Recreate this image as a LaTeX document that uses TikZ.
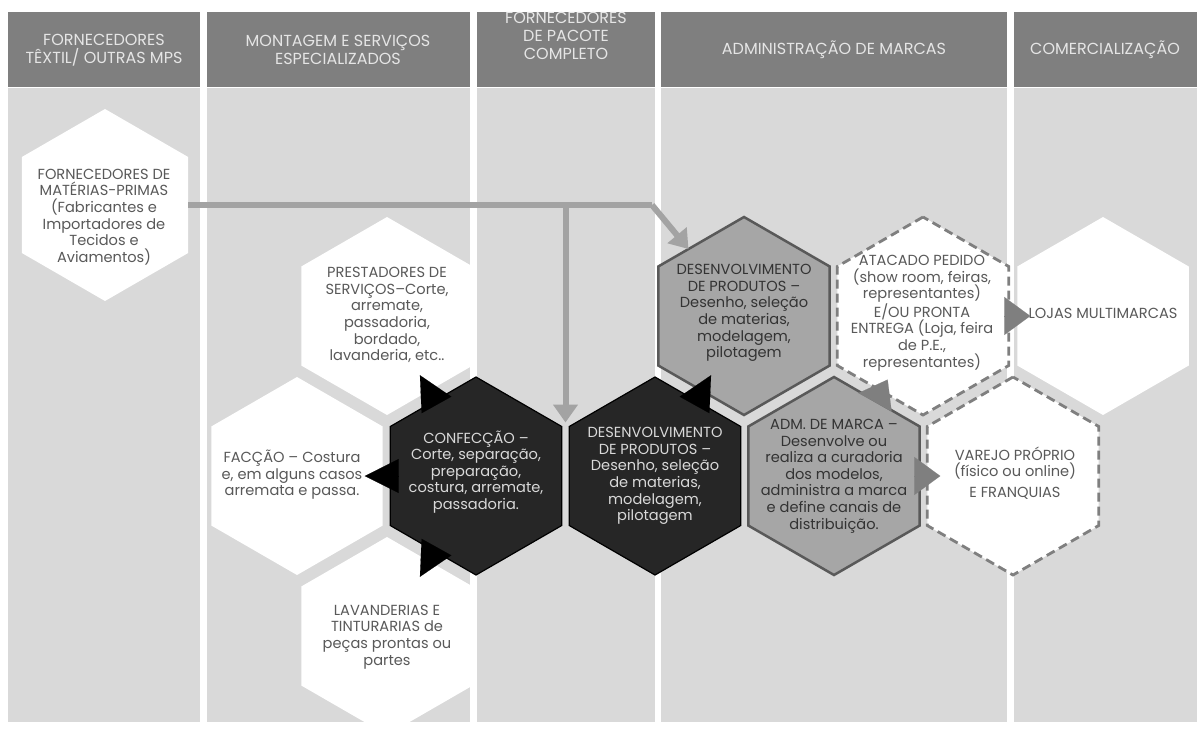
\documentclass[tikz,border=0pt]{standalone}
\usepackage{fontspec}
\setmainfont{Poppins}
\usetikzlibrary{shapes.geometric,arrows.meta,calc}
\definecolor{headgray}{HTML}{7F7F7F}
\definecolor{bodygray}{HTML}{D9D9D9}
\definecolor{inkgray}{HTML}{595959}
\definecolor{feedgray}{HTML}{A3A3A3}
\definecolor{midgray}{HTML}{A6A6A6}
\definecolor{darkhex}{HTML}{262626}
\definecolor{tipgray}{HTML}{7F7F7F}

\tikzset{
  hex/.style={regular polygon, regular polygon sides=6, shape border rotate=30,
    minimum size=198pt, inner sep=0pt, outer sep=0pt},
  hexwhite/.style={hex, fill=white},
  hexdark/.style={hex, fill=darkhex, draw=black, line width=1.2pt},
  hexgray/.style={hex, fill=midgray, draw=inkgray, line width=2.5pt},
  hexdash/.style={hex, fill=white, draw=tipgray, line width=2.8pt, dash pattern=on 9pt off 5pt},
  hextext/.style={align=center, text=inkgray, font=\fontsize{14.6}{16.6}\selectfont},
  headtext/.style={align=center, text=white!90!black, font=\fontsize{16}{18}\selectfont},
  feed/.style={feedgray, line width=6pt, -{Triangle[length=18pt,width=24pt]}},
  tipblack/.style={black, line width=.1pt, -{Triangle[length=34pt,width=34pt]}, shorten >=-18pt},
  tipgrey/.style={tipgray, line width=.1pt, -{Triangle[length=26pt,width=38pt]}, shorten >=-13pt},
}

\begin{document}
\begin{tikzpicture}[x=1pt, y=-1pt]
    \useasboundingbox (0,0) rectangle (1197,729);

    % Columns
    \foreach \xa/\xb in {8/200, 207/470, 477/655, 661/1007, 1014/1197} {
        \fill[headgray] (\xa,12) rectangle (\xb,87);
        \fill[bodygray] (\xa,88) rectangle (\xb,722);
    }
    \node[headtext] (h1) at (104,50) {FORNECEDORES\\TÊXTIL/ OUTRAS MPS};
    \node[headtext] (h2) at (338,50) {MONTAGEM E SERVIÇOS\\ESPECIALIZADOS};
    \node[headtext] (h3) at (566,36) {FORNECEDORES\\DE PACOTE\\COMPLETO};
    \node[headtext] (h4) at (834,50) {ADMINISTRAÇÃO DE MARCAS};
    \node[headtext] (h5) at (1105,50) {COMERCIALIZAÇÃO};

    % Hexagons
    \node[hexwhite, minimum size=192pt] (mp) at (105,205) {};
    \node[hexwhite] (pres) at (387,316) {};
    \node[hexwhite] (fac) at (297,476) {};
    \node[hexwhite] (lav) at (387,636) {};
    \node[hexdark] (conf) at (476,476) {};
    \node[hexdark] (devd) at (655,476) {};
    \node[hexgray] (devg) at (744,316) {};
    \node[hexgray] (adm) at (834,476) {};
    \node[hexdash] (atac) at (923,316) {};
    \node[hexdash] (varejo) at (1013,476) {};
    \node[hexwhite] (lojas) at (1103,316) {};

    % Texts
    \node[hextext] (mp-t) at (104,217) {FORNECEDORES DE\\MATÉRIAS-PRIMAS\\(Fabricantes e\\Importadores de\\Tecidos e\\Aviamentos)};
    \node[hextext] (pres-t) at (387,315) {PRESTADORES DE\\SERVIÇOS–Corte,\\arremate,\\passadoria,\\bordado,\\lavanderia, etc..};
    \node[hextext] (fac-t) at (292,475) {FACÇÃO – Costura\\e, em alguns casos\\arremata e passa.};
    \node[hextext] (lav-t) at (387,637) {LAVANDERIAS E\\TINTURARIAS de\\peças prontas ou\\partes};
    \node[hextext, text=bodygray] (conf-t) at (476,472) {CONFECÇÃO –\\Corte, separação,\\preparação,\\costura, arremate,\\passadoria.};
    \node[hextext, text=bodygray] (devd-t) at (655,476) {DESENVOLVIMENTO\\DE PRODUTOS –\\Desenho, seleção\\de materias,\\modelagem,\\pilotagem};
    \node[hextext, text=black!80] (devg-t) at (744,313) {DESENVOLVIMENTO\\DE PRODUTOS –\\Desenho, seleção\\de materias,\\modelagem,\\pilotagem};
    \node[hextext, text=black!80] (adm-t) at (834,476) {ADM. DE MARCA –\\Desenvolve ou\\realiza a curadoria\\dos modelos,\\administra a marca\\e define canais de\\distribuição.};
    \node[hextext] (atac-t) at (922,313) {ATACADO PEDIDO\\(show room, feiras,\\representantes)\\E/OU PRONTA\\ENTREGA (Loja, feira\\de P.E.,\\representantes)};
    \node[hextext] (varejo-t) at (1015,473) {VAREJO PRÓPRIO\\(físico ou online)\\[4pt]E FRANQUIAS};
    \node[hextext] (lojas-t) at (1103,313) {LOJAS MULTIMARCAS};

    % Raw material feed
    \coordinate (gap) at ($(conf.30)!0.5!(devd.150)$);
    \coordinate (j1) at (gap |- mp.east);
    \coordinate (j2) at (652,205);
    \draw[feed, -] (mp.east) -- (j2);
    \draw[feed] (j2) -- (devg);
    \draw[feed, shorten >=4pt] (j1) -- (gap);

    % Flows
    \draw[tipblack] (conf) -- (pres);
    \draw[tipblack] (conf) -- (fac);
    \draw[tipblack] (conf) -- (lav);
    \draw[tipblack] (devd) -- (devg);
    \draw[tipgrey] (adm) -- (atac);
    \draw[tipgrey] (adm) -- (varejo);
    \draw[tipgrey] (atac) -- (lojas);
\end{tikzpicture}
\end{document}
